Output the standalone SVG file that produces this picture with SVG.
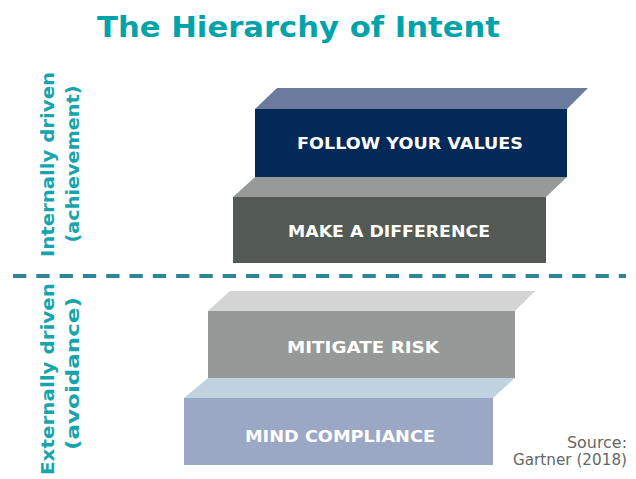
<svg xmlns="http://www.w3.org/2000/svg" width="636" height="479" viewBox="0 0 636 479">
<style>
.lbl{font-family:"DejaVu Sans","Verdana",sans-serif;font-weight:bold;font-size:16.5px;fill:#ffffff;text-anchor:middle}
.side{font-family:"DejaVu Sans","Verdana",sans-serif;font-weight:bold;font-size:17.5px;fill:#16a5ad;text-anchor:middle}
.src{font-family:"DejaVu Sans","Verdana",sans-serif;font-size:15px;fill:#666666;text-anchor:end}
</style>
<rect width="636" height="479" fill="#ffffff"/>
<text x="298.5" y="37" textLength="403" lengthAdjust="spacingAndGlyphs" style="font-family:'DejaVu Sans',Verdana,sans-serif;font-weight:bold;font-size:28px;fill:#00a3a9" text-anchor="middle">The Hierarchy of Intent</text>
<g id="follow-your-values">
<polygon points="255,109 277,88 588,88 567,109" fill="#6b7b9d"/>
<rect x="255" y="109" width="312" height="68" fill="#022957"/>
<text class="lbl" x="410" y="149" textLength="226" lengthAdjust="spacingAndGlyphs">FOLLOW YOUR VALUES</text>
</g>
<g id="make-a-difference">
<polygon points="233,197 255,177 567,177 546,197" fill="#969a99"/>
<rect x="233" y="197" width="313" height="66" fill="#535a55"/>
<text class="lbl" x="389" y="237" textLength="202" lengthAdjust="spacingAndGlyphs">MAKE A DIFFERENCE</text>
</g>
<g id="mitigate-risk">
<polygon points="208,311 230,291 535,291 515,311" fill="#d4d4d4"/>
<rect x="208" y="311" width="307" height="67" fill="#959998"/>
<text class="lbl" x="363" y="353" textLength="152" lengthAdjust="spacingAndGlyphs">MITIGATE RISK</text>
</g>
<g id="mind-compliance">
<polygon points="184,398 208,378 515,378 493,398" fill="#c0d2e0"/>
<rect x="184" y="398" width="309" height="67" fill="#9aa8c6"/>
<text class="lbl" x="340" y="442" textLength="190" lengthAdjust="spacingAndGlyphs">MIND COMPLIANCE</text>
</g>
<g id="connectors">
<line x1="13" y1="276" x2="626" y2="276" stroke="#2e8595" stroke-width="4" stroke-dasharray="13.3 10"/>
</g>
<g id="internal-label">
<text class="side" transform="translate(54,164.5) rotate(-90)" textLength="185" lengthAdjust="spacingAndGlyphs">Internally driven</text>
<text class="side" transform="translate(79,164) rotate(-90)" textLength="157" lengthAdjust="spacingAndGlyphs">(achievement)</text>
</g>
<g id="external-label">
<text class="side" transform="translate(54,379) rotate(-90)" textLength="192" lengthAdjust="spacingAndGlyphs">Externally driven</text>
<text class="side" transform="translate(79,373.5) rotate(-90)" textLength="153" lengthAdjust="spacingAndGlyphs">(avoidance)</text>
</g>
<g id="source">
<text class="src" x="627" y="448" textLength="60" lengthAdjust="spacingAndGlyphs">Source:</text>
<text class="src" x="627" y="465" textLength="114" lengthAdjust="spacingAndGlyphs">Gartner (2018)</text>
</g>
</svg>
